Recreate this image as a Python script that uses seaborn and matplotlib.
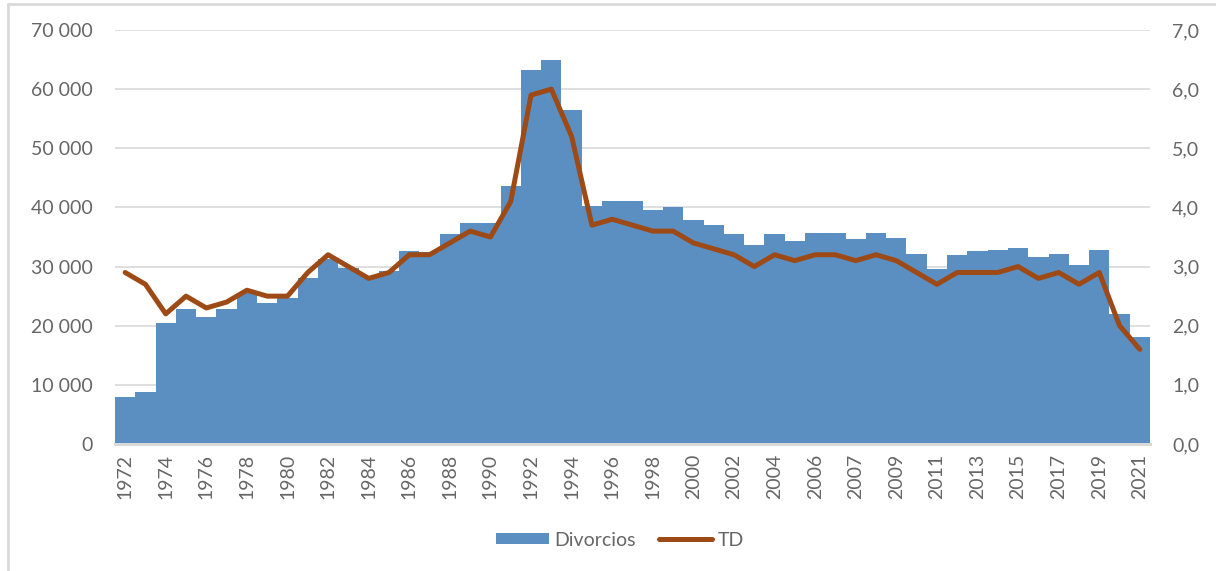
import numpy as np
import pandas as pd
import seaborn as sns
import matplotlib.pyplot as plt
from matplotlib.ticker import FuncFormatter, MultipleLocator
from matplotlib.patches import Patch
from matplotlib.lines import Line2D

# datos (la serie trae 2006 dos veces)
anios = [str(a) for a in range(1972, 2007)] + ["2006"] + [str(a) for a in range(2007, 2022)]
divorcios = [8000, 8800, 20400, 22800, 21400, 22800, 25500, 23900, 24700, 28000,
             31300, 29800, 28400, 29200, 32600, 32400, 35500, 37400, 37400, 43600,
             63300, 65000, 56500, 40200, 41100, 41100, 39600, 40100, 37900, 37000,
             35500, 33600, 35500, 34400, 35700, 35700, 34700, 35700, 34800, 32100,
             29600, 32000, 32600, 32800, 33100, 31600, 32100, 30300, 32800, 22000,
             18100]
td = [2.9, 2.7, 2.2, 2.5, 2.3, 2.4, 2.6, 2.5, 2.5, 2.9,
      3.2, 3.0, 2.8, 2.9, 3.2, 3.2, 3.4, 3.6, 3.5, 4.1,
      5.9, 6.0, 5.2, 3.7, 3.8, 3.7, 3.6, 3.6, 3.4, 3.3,
      3.2, 3.0, 3.2, 3.1, 3.2, 3.2, 3.1, 3.2, 3.1, 2.9,
      2.7, 2.9, 2.9, 2.9, 3.0, 2.8, 2.9, 2.7, 2.9, 2.0,
      1.6]

df = pd.DataFrame({"pos": np.arange(len(anios)), "Divorcios": divorcios, "TD": td})

color_bar = "#5B8FC1"
color_line = "#9E4A17"
gris = "#666666"
grid = "#D9D9D9"

sns.set_style("white")
plt.rcParams['font.family'] = ['Lato', 'DejaVu Sans']
plt.rcParams['font.size'] = 14

fig = plt.figure(figsize=(12.16, 5.71), dpi=100)
ax = fig.add_axes([115 / 1216, 1 - 444 / 571, (1150 - 115) / 1216, (444 - 30) / 571])

sns.barplot(data=df, x="pos", y="Divorcios", color=color_bar, width=1.0,
            linewidth=0, saturation=1, ax=ax, zorder=2)
ax.set_ylim(0, 70000)
ax.set_xlim(-0.5, len(anios) - 0.5)
ax.yaxis.set_major_locator(MultipleLocator(10000))
ax.yaxis.set_major_formatter(FuncFormatter(lambda v, p: f"{int(v):,}".replace(",", " ")))
ax.grid(axis="y", color=grid, linewidth=1.2, zorder=0)
ax.set_axisbelow(True)
ax.set_xticks(np.arange(0, len(anios), 2))
ax.set_xticklabels(anios[::2], rotation=90)
ax.set_xlabel("")
ax.set_ylabel("")
ax.tick_params(axis="both", length=0, colors=gris, labelsize=14)
ax.tick_params(axis="y", pad=16)
ax.tick_params(axis="x", pad=7)

ax2 = ax.twinx()
sns.lineplot(data=df, x="pos", y="TD", color=color_line, linewidth=3.6, ax=ax2)
ax2.set_ylim(0, 7)
ax2.yaxis.set_major_locator(MultipleLocator(1))
ax2.yaxis.set_major_formatter(FuncFormatter(lambda v, p: f"{v:.1f}".replace(".", ",")))
ax2.set_ylabel("")
ax2.tick_params(axis="y", length=0, colors=gris, labelsize=14, pad=16)

for a in (ax, ax2):
    for s in ("top", "left", "right"):
        a.spines[s].set_visible(False)
    a.spines["bottom"].set_color(grid)
    a.spines["bottom"].set_linewidth(2)

handles = [Patch(facecolor=color_bar, edgecolor="none", label="Divorcios"),
           Line2D([0], [0], color=color_line, linewidth=3.6, label="TD")]
fig.legend(handles=handles, loc="center", bbox_to_anchor=(620 / 1216, 1 - 540 / 571),
           ncol=2, frameon=False, handlelength=2.7, handleheight=0.55, handletextpad=0.3,
           columnspacing=1.2, fontsize=14, labelcolor=gris)

# marco del gráfico (solo arriba e izquierda, recorte)
fig.add_artist(Line2D([8 / 1216, 8 / 1216], [0, 1 - 4 / 571], color=grid, linewidth=2))
fig.add_artist(Line2D([8 / 1216, 1], [1 - 4 / 571, 1 - 4 / 571], color=grid, linewidth=2))

plt.savefig("out.png", dpi=100)
